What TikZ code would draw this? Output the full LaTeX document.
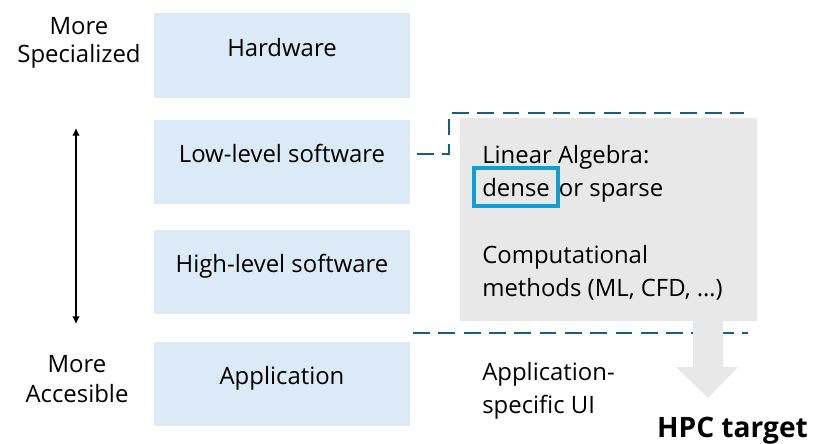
\documentclass[tikz,border=0pt]{standalone}
\usepackage{fontspec}
\setmainfont{Open Sans}
\usepackage{xcolor}
\usetikzlibrary{arrows.meta,calc}
\tikzset{>=latex}
\definecolor{layerblue}{HTML}{DCEAF7}
\definecolor{panelgray}{HTML}{E8E8E8}
\definecolor{septeal}{HTML}{156082}
\definecolor{hiblue}{HTML}{0F9ED5}

\begin{document}
\begin{tikzpicture}[x=0.025cm,y=-0.025cm,
    layer/.style={fill=layerblue,minimum width=6.4cm,minimum height=2.1cm,inner sep=0pt},
    txt/.style={font=\fontsize{17}{22.8}\selectfont,inner sep=0pt},
    lbl/.style={txt,text height=0.75em,text depth=0.25em,yshift=0.065cm},
    sep/.style={draw=septeal,line width=1.4pt,dash pattern=on 12pt off 6pt}]
            \useasboundingbox (0,0) rectangle (813,443);
            \node[layer,label={[lbl]center:Hardware}] (hw) at (282,55.5) {};
            \node[layer,label={[lbl]center:Low-level software}] (low) at (282,162) {};
            \node[layer,label={[lbl]center:High-level software}] (high) at (282,272) {};
            \node[layer,label={[lbl]center:Application}] (app) at (282,384) {};
            \node[txt,font=\fontsize{17}{19.5}\selectfont,align=center,anchor=base] (spec) at (79,62) {More\\Specialized};
            \node[txt,font=\fontsize{17}{21.3}\selectfont,align=center,anchor=base] (acc) at (77,402) {More\\Accesible};
            \coordinate (up) at (76,128);
            \coordinate (down) at (76,324);
            \draw[{Latex[length=5.5pt,width=5.5pt]}-{Latex[length=5.5pt,width=5.5pt]},line width=1pt] (up) -- (down);
            \node[fill=panelgray,minimum width=7.425cm,minimum height=5.075cm,inner sep=0pt] (panel) at (608.5,219.5) {};
            \node[txt,align=left,anchor=base west] (linalg) at (482,196) {Linear Algebra:\\dense\hspace{6.5pt}or sparse};
            \node[txt,align=left,anchor=base west] (comp) at (482,296) {Computational\\methods (ML, CFD, …)};
            \draw[draw=hiblue,line width=2.6pt] (474,168) rectangle (558,206);
            \node[txt,align=left,anchor=base west] (appui) at (482,413) {Application-\\specific UI};
            \coordinate (sa) at (417,154);
            \coordinate (sb) at (449,113);
            \coordinate (sc) at (744,113);
            \coordinate (sd) at (413,333);
            \coordinate (se) at (748,333);
            \draw[sep] (sa) -| (sb) -- (sc);
            \draw[sep] (sd) -- (se);
            \fill[panelgray] (693,321) -- (723,321) -- (723,367) -- (738,367) -- (708,398) -- (676,367) -- (693,367) -- cycle;
            \node[txt,font=\fontsize{20}{22}\selectfont\bfseries,anchor=base] (hpc) at (732.5,437) {HPC target};
        \end{tikzpicture}
\end{document}
